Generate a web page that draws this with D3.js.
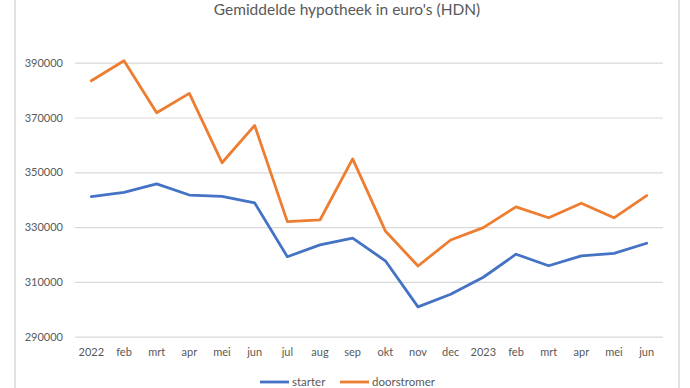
<!DOCTYPE html>
<html><head><meta charset="utf-8">
<script src="https://cdn.jsdelivr.net/npm/d3@7"></script>
<style>body{margin:0;background:#fff}svg{display:block}text{font-family:Lato,"Open Sans",sans-serif;fill:#595959}</style>
</head><body><svg id="c" width="690" height="388"></svg>
<script>
const categories = ["2022","feb","mrt","apr","mei","jun","jul","aug","sep","okt","nov","dec","2023","feb","mrt","apr","mei","jun"];
const starter = [341100,342700,345800,341700,341200,338800,319200,323500,326000,317700,300900,305500,311700,320100,315900,319500,320400,324100];
const doorstromer = [383400,390700,371750,378800,353500,367100,332000,332600,354900,328600,315800,325300,329800,337400,333400,338700,333400,341500];
const yTicks = [290000,310000,330000,350000,370000,390000];
const seriesNames = ["starter","doorstromer"];
const colors = ["#4472C4","#ED7D31"];
const title = "Gemiddelde hypotheek in euro's (HDN)";

const svg = d3.select("#c");
const W = 690, H = 388;
const pL = 75, pR = 663, pT = 62.7, pB = 336.7;
const x = d3.scaleBand().domain(d3.range(categories.length)).range([pL, pR]);
const y = d3.scaleLinear().domain([290000, 390000]).range([pB, pT]);

// chart border
svg.append("line").attr("x1",15).attr("x2",15).attr("y1",0).attr("y2",H).attr("stroke","#d9d9d9").attr("stroke-width",1.5);
svg.append("line").attr("x1",679).attr("x2",679).attr("y1",0).attr("y2",H).attr("stroke","#d9d9d9").attr("stroke-width",1.5);

svg.append("text").attr("x",347).attr("y",14.5).attr("text-anchor","middle").attr("font-size",15.5).text(title);

// gridlines + y labels
const ya = svg.append("g").attr("transform",`translate(${pL},0)`)
  .call(d3.axisLeft(y).tickValues(yTicks).tickSize(-(pR-pL)).tickPadding(12).tickFormat(d3.format("d")));
ya.select(".domain").remove();
ya.selectAll(".tick line").attr("stroke","#d9d9d9").attr("stroke-width",1.2);
ya.selectAll(".tick text").attr("font-size",11).attr("fill","#595959").attr("font-family","Lato, sans-serif");

// x labels
const xa = svg.append("g").attr("transform",`translate(0,${pB})`)
  .call(d3.axisBottom(x).tickSize(0).tickPadding(12).tickFormat(i => categories[i]));
xa.select(".domain").remove();
xa.selectAll(".tick text").attr("font-size",11).attr("fill","#595959").attr("font-family","Lato, sans-serif");

const line = d3.line().x((d,i) => x(i) + x.bandwidth()/2).y(d => y(d));
[starter, doorstromer].forEach((s, k) => {
  svg.append("path").datum(s).attr("d", line).attr("fill","none")
    .attr("stroke", colors[k]).attr("stroke-width", 2.8).attr("stroke-linejoin","round").attr("stroke-linecap","round");
});

// legend
const leg = [{x:260, name:seriesNames[0], c:colors[0]},{x:340, name:seriesNames[1], c:colors[1]}];
leg.forEach(l => {
  svg.append("line").attr("x1",l.x).attr("x2",l.x+29).attr("y1",382).attr("y2",382).attr("stroke",l.c).attr("stroke-width",2.8);
  svg.append("text").attr("x",l.x+32).attr("y",386).attr("font-size",11.5).text(l.name);
});
</script></body></html>
